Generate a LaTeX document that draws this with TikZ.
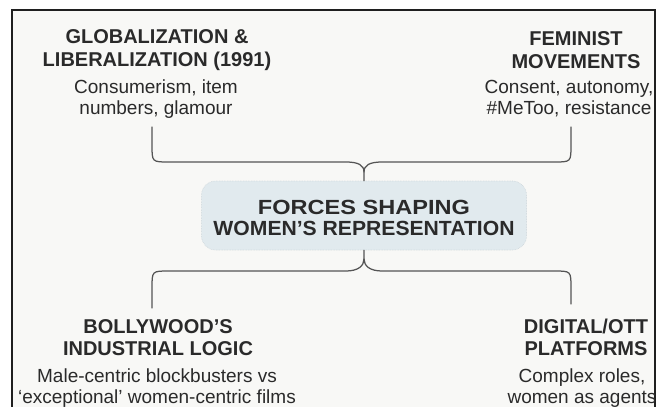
\documentclass[tikz,border=0pt]{standalone}
\usepackage{fontspec}
\usepackage{graphicx}
\setmainfont{Liberation Sans}
\definecolor{bgin}{HTML}{F8F8F6}
\definecolor{ink}{HTML}{2A2A2A}
\definecolor{brc}{HTML}{555555}
\definecolor{boxfill}{HTML}{E1EAEE}
\definecolor{boxline}{HTML}{CBD5DA}
\begin{document}
\begin{tikzpicture}[x=1pt,y=-1pt,
  head/.style={font=\bfseries\fontsize{20}{22.5}\selectfont, text=ink, align=center, inner sep=0pt},
  body/.style={font=\fontsize{19}{21}\selectfont, text=ink, align=center, inner sep=0pt},
  br/.style={draw=brc, line width=1.25pt, line cap=round},
  centerbox/.style={fill=boxfill, draw=boxline, densely dotted, line width=0.6pt, rounded corners=14pt,
     minimum width=325pt, minimum height=69pt, inner sep=0pt, align=center, text=ink,
     font=\bfseries\fontsize{10}{21}\selectfont}]
\useasboundingbox (0,0) rectangle (665,407);
\fill[white] (0,0) rectangle (665,407);
\fill[bgin] (12,10) rectangle (655,407);
\draw[line width=1.6pt, draw=black!88] (12,407) -- (12,10) -- (655,10) -- (655,407);

\begin{scope}
\clip (13,11) rectangle (654.2,407);
\node[head] (h1) at (157,50) {GLOBALIZATION \&\\LIBERALIZATION (1991)};
\node[body] (b1) at (156,99) {Consumerism, item\\numbers, glamour};
\node[head] (h2) at (576,50) {FEMINIST\\MOVEMENTS};
\node[body] (b2) at (569,99) {Consent, autonomy,\\\#MeToo, resistance};
\node[head] (h3) at (158,337.5) {BOLLYWOOD’S\\INDUSTRIAL LOGIC};
\node[body] (b3) at (157,388) {Male-centric blockbusters vs\\‘exceptional’ women-centric films};
\node[head] (h4) at (586,337.5) {DIGITAL/OTT\\PLATFORMS};
\node[body] (b4) at (582,388) {Complex roles,\\women as agents};
\end{scope}

\node[centerbox] (c) at (364,215.5) {%
  \rule{0pt}{19pt}\resizebox{212pt}{14.3pt}{FORCES SHAPING}\\
  \resizebox{301pt}{14.3pt}{WOMEN’S REPRESENTATION}};

\coordinate (tl) at (152,127);
\coordinate (tr) at (571,127);
\coordinate (bl) at (152,308);
\coordinate (brr) at (571,304);

\draw[br] (tl) -- (152,145) .. controls (152,162) .. (169,162) -- (346,162)
   .. controls (358,162) and (364,165) .. (364,172) -- (c.north);
\draw[br] (tr) -- (571,145) .. controls (571,162) .. (554,162) -- (382,162)
   .. controls (370,162) and (364,165) .. (364,172);
\draw[br] (c.south) -- (364,259) .. controls (364,266) and (358,271) .. (346,271)
   -- (169,271) .. controls (152,271) .. (152,288) -- (bl);
\draw[br] (364,259) .. controls (364,266) and (370,271) .. (382,271)
   -- (554,271) .. controls (571,271) .. (571,288) -- (brr);
\end{tikzpicture}
\end{document}
